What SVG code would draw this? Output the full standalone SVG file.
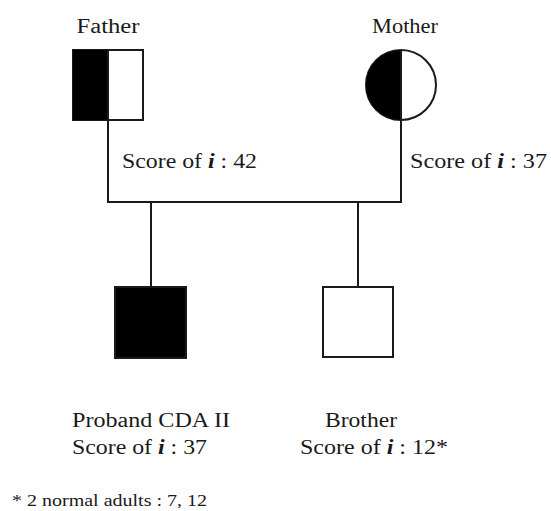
<svg xmlns="http://www.w3.org/2000/svg" width="551" height="511" viewBox="0 0 551 511">
<style>
.ln{stroke:#1a1a1a;stroke-width:2;fill:none}
.sh{stroke:#1a1a1a;stroke-width:2}
text{font-family:"Liberation Serif","Times New Roman",serif;font-size:20px;fill:#1a1a1a}
.it{font-style:italic;font-weight:bold}
.fn{font-size:16px}
</style>
<rect width="551" height="511" fill="#fff"/>
<g id="connectors">
<line class="ln" x1="108" y1="120" x2="108" y2="202"/>
<line class="ln" x1="401" y1="120" x2="401" y2="202"/>
<line class="ln" x1="107" y1="202" x2="402" y2="202"/>
<line class="ln" x1="151" y1="202" x2="151" y2="287"/>
<line class="ln" x1="358" y1="202" x2="358" y2="287"/>
</g>
<g id="father">
<rect x="73" y="50" width="70" height="70" fill="#fff" class="sh"/>
<rect x="73" y="50" width="35" height="70" fill="#000"/>
<line class="ln" x1="108" y1="50" x2="108" y2="120"/>
<text x="108" y="33" text-anchor="middle" textLength="63" lengthAdjust="spacingAndGlyphs">Father</text>
<text x="122" y="168" textLength="135" lengthAdjust="spacingAndGlyphs">Score of <tspan class="it">i</tspan> : 42</text>
</g>
<g id="mother">
<circle cx="401" cy="85" r="35" fill="#fff" class="sh"/>
<path d="M401,50 A35,35 0 0 0 401,120 Z" fill="#000"/>
<line class="ln" x1="401" y1="50" x2="401" y2="120"/>
<text x="405" y="33" text-anchor="middle" textLength="66" lengthAdjust="spacingAndGlyphs">Mother</text>
<text x="410" y="168" textLength="137" lengthAdjust="spacingAndGlyphs">Score of <tspan class="it">i</tspan> : 37</text>
</g>
<g id="proband">
<rect x="115" y="287" width="71" height="71" fill="#000" class="sh"/>
<text x="72" y="427" textLength="158" lengthAdjust="spacingAndGlyphs">Proband CDA II</text>
<text x="72" y="454" textLength="135" lengthAdjust="spacingAndGlyphs">Score of <tspan class="it">i</tspan> : 37</text>
</g>
<g id="brother">
<rect x="323" y="287" width="70" height="70" fill="#fff" class="sh"/>
<text x="325" y="427" textLength="72" lengthAdjust="spacingAndGlyphs">Brother</text>
<text x="300" y="454" textLength="148" lengthAdjust="spacingAndGlyphs">Score of <tspan class="it">i</tspan> : 12*</text>
</g>
<g id="footnote">
<text class="fn" x="12" y="506" textLength="195" lengthAdjust="spacingAndGlyphs">* 2 normal adults : 7, 12</text>
</g>
</svg>
